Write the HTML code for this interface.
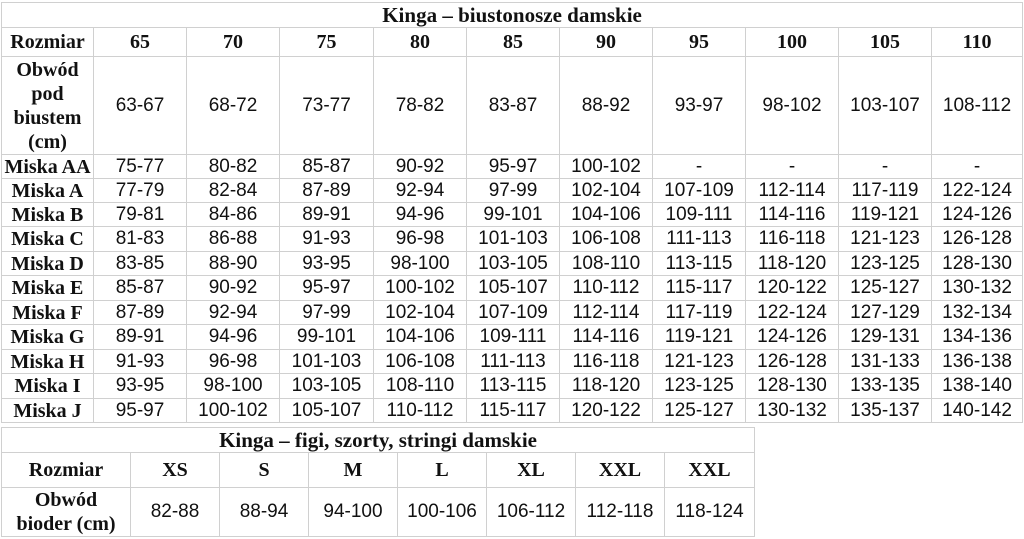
<!DOCTYPE html>
<html><head><meta charset="utf-8"><style>
body{margin:0;background:#fff;width:1024px;height:539px;overflow:hidden;position:relative}
table{border-collapse:collapse;table-layout:fixed;position:absolute;left:1px}
td{border:1px solid #d0d0d0;text-align:center;vertical-align:middle;padding:0;color:#111;
font-family:"Liberation Sans",sans-serif;font-size:19px;line-height:20px;white-space:nowrap;overflow:hidden}
td.b{font-family:"Liberation Serif",serif;font-weight:bold;font-size:20px;line-height:20px}
td.t{font-family:"Liberation Serif",serif;font-weight:bold;font-size:21px;line-height:20px}
td.m{line-height:24px}
</style></head><body>
<table style="top:2px;width:1021px">
<colgroup><col style="width:92px"><col style="width:93px"><col style="width:93px"><col style="width:94px"><col style="width:93px"><col style="width:93px"><col style="width:93px"><col style="width:93px"><col style="width:93px"><col style="width:93px"><col style="width:91px"></colgroup>
<tr style="height:25px"><td class="t" colspan="11">Kinga – biustonosze damskie</td></tr>
<tr style="height:29px"><td class="b">Rozmiar</td><td class="b">65</td><td class="b">70</td><td class="b">75</td><td class="b">80</td><td class="b">85</td><td class="b">90</td><td class="b">95</td><td class="b">100</td><td class="b">105</td><td class="b">110</td></tr>
<tr style="height:98px"><td class="b m">Obwód<br>pod<br>biustem<br>(cm)</td><td>63-67</td><td>68-72</td><td>73-77</td><td>78-82</td><td>83-87</td><td>88-92</td><td>93-97</td><td>98-102</td><td>103-107</td><td>108-112</td></tr>
<tr style="height:24px"><td class="b">Miska AA</td><td>75-77</td><td>80-82</td><td>85-87</td><td>90-92</td><td>95-97</td><td>100-102</td><td>-</td><td>-</td><td>-</td><td>-</td></tr>
<tr style="height:24px"><td class="b">Miska A</td><td>77-79</td><td>82-84</td><td>87-89</td><td>92-94</td><td>97-99</td><td>102-104</td><td>107-109</td><td>112-114</td><td>117-119</td><td>122-124</td></tr>
<tr style="height:24px"><td class="b">Miska B</td><td>79-81</td><td>84-86</td><td>89-91</td><td>94-96</td><td>99-101</td><td>104-106</td><td>109-111</td><td>114-116</td><td>119-121</td><td>124-126</td></tr>
<tr style="height:25px"><td class="b">Miska C</td><td>81-83</td><td>86-88</td><td>91-93</td><td>96-98</td><td>101-103</td><td>106-108</td><td>111-113</td><td>116-118</td><td>121-123</td><td>126-128</td></tr>
<tr style="height:24px"><td class="b">Miska D</td><td>83-85</td><td>88-90</td><td>93-95</td><td>98-100</td><td>103-105</td><td>108-110</td><td>113-115</td><td>118-120</td><td>123-125</td><td>128-130</td></tr>
<tr style="height:25px"><td class="b">Miska E</td><td>85-87</td><td>90-92</td><td>95-97</td><td>100-102</td><td>105-107</td><td>110-112</td><td>115-117</td><td>120-122</td><td>125-127</td><td>130-132</td></tr>
<tr style="height:24px"><td class="b">Miska F</td><td>87-89</td><td>92-94</td><td>97-99</td><td>102-104</td><td>107-109</td><td>112-114</td><td>117-119</td><td>122-124</td><td>127-129</td><td>132-134</td></tr>
<tr style="height:25px"><td class="b">Miska G</td><td>89-91</td><td>94-96</td><td>99-101</td><td>104-106</td><td>109-111</td><td>114-116</td><td>119-121</td><td>124-126</td><td>129-131</td><td>134-136</td></tr>
<tr style="height:24px"><td class="b">Miska H</td><td>91-93</td><td>96-98</td><td>101-103</td><td>106-108</td><td>111-113</td><td>116-118</td><td>121-123</td><td>126-128</td><td>131-133</td><td>136-138</td></tr>
<tr style="height:25px"><td class="b">Miska I</td><td>93-95</td><td>98-100</td><td>103-105</td><td>108-110</td><td>113-115</td><td>118-120</td><td>123-125</td><td>128-130</td><td>133-135</td><td>138-140</td></tr>
<tr style="height:24px"><td class="b">Miska J</td><td>95-97</td><td>100-102</td><td>105-107</td><td>110-112</td><td>115-117</td><td>120-122</td><td>125-127</td><td>130-132</td><td>135-137</td><td>140-142</td></tr>
</table>
<table style="top:427px;width:753px">
<colgroup><col style="width:129px"><col style="width:89px"><col style="width:89px"><col style="width:89px"><col style="width:89px"><col style="width:89px"><col style="width:89px"><col style="width:90px"></colgroup>
<tr style="height:25px"><td class="t" colspan="8">Kinga – figi, szorty, stringi damskie</td></tr>
<tr style="height:35px"><td class="b">Rozmiar</td><td class="b">XS</td><td class="b">S</td><td class="b">M</td><td class="b">L</td><td class="b">XL</td><td class="b">XXL</td><td class="b">XXL</td></tr>
<tr style="height:48px"><td class="b m">Obwód<br>bioder (cm)</td><td>82-88</td><td>88-94</td><td>94-100</td><td>100-106</td><td>106-112</td><td>112-118</td><td>118-124</td></tr>
</table>
</body></html>
